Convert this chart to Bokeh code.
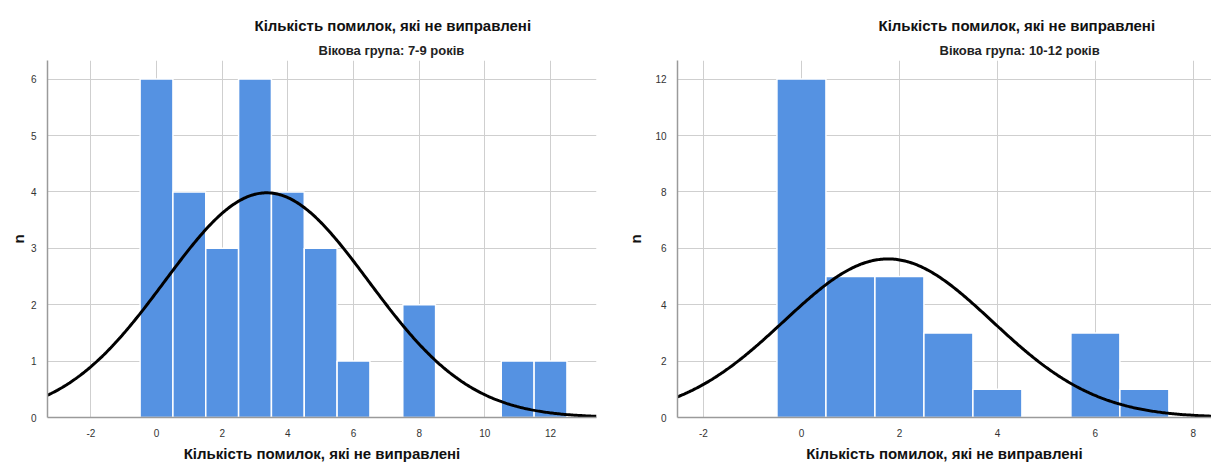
import numpy as np
from bokeh.plotting import figure
from bokeh.models import FixedTicker, Range1d, Title
from bokeh.layouts import row
from bokeh.embed import file_html
from bokeh.resources import INLINE

# ---- data ----
title_text = "Кількість помилок, які не виправлені"
xlabel_text = "Кількість помилок, які не виправлені"
ylabel_text = "n"
group1 = "Вікова група: 7-9 років"
group2 = "Вікова група: 10-12 років"

bins1 = [0, 1, 2, 3, 4, 5, 6, 8, 11, 12]
counts1 = [6, 4, 3, 6, 4, 3, 1, 2, 1, 1]
bins2 = [0, 1, 2, 3, 4, 6, 7]
counts2 = [12, 5, 5, 3, 1, 3, 1]

xticks1 = [-2, 0, 2, 4, 6, 8, 10, 12]
yticks1 = [0, 1, 2, 3, 4, 5, 6]
xticks2 = [-2, 0, 2, 4, 6, 8]
yticks2 = [0, 2, 4, 6, 8, 10, 12]

FONT = "Liberation Sans"
BAR = "#5592e2"
H = 464
TOP = 60
FRAME_H = 357


def normal_fit(bins, counts, x):
    b = np.array(bins, float)
    c = np.array(counts, float)
    n = c.sum()
    m = (b * c).sum() / n
    sd = np.sqrt(((b - m) ** 2 * c).sum() / (n - 1))
    return n / (sd * np.sqrt(2 * np.pi)) * np.exp(-0.5 * ((x - m) / sd) ** 2)


def make(bins, counts, xticks, yticks, xr, yr, width, fl, fr, subtitle,
         title_off, sub_off, ylab_standoff):
    p = figure(width=width, height=H, x_range=Range1d(*xr), y_range=Range1d(*yr),
               output_backend="svg", toolbar_location=None,
               min_border_left=fl, min_border_right=fr,
               min_border_top=TOP, min_border_bottom=H - TOP - FRAME_H)
    p.outline_line_color = None
    p.background_fill_color = "white"
    p.border_fill_color = "white"

    p.vbar(x=bins, top=counts, width=1.0, fill_color=BAR,
           line_color="white", line_width=1.5)

    xs = np.linspace(xr[0], xr[1], 400)
    p.line(xs, normal_fit(bins, counts, xs), line_color="black", line_width=3)

    for ax in (p.xaxis[0], p.yaxis[0]):
        ax.major_tick_line_color = None
        ax.minor_tick_line_color = None
        ax.axis_line_color = "#9a9a9a"
        ax.axis_line_width = 1.5
        ax.major_label_text_font = FONT
        ax.major_label_text_font_size = "10px"
        ax.major_label_text_color = "#333333"
        ax.major_label_standoff = 5
        ax.axis_label_text_font = FONT
        ax.axis_label_text_font_size = "15px"
        ax.axis_label_text_font_style = "bold"
        ax.axis_label_text_color = "#111111"
    p.xaxis[0].ticker = FixedTicker(ticks=xticks)
    p.xaxis[0].major_label_overrides = {t: str(t) for t in xticks}
    p.yaxis[0].ticker = FixedTicker(ticks=yticks)
    p.xaxis[0].axis_label = xlabel_text
    p.xaxis[0].axis_label_standoff = 5
    p.yaxis[0].axis_label = ylabel_text
    p.yaxis[0].axis_label_standoff = ylab_standoff

    p.xgrid[0].ticker = FixedTicker(ticks=xticks)
    p.ygrid[0].ticker = FixedTicker(ticks=yticks)
    for g in (p.xgrid[0], p.ygrid[0]):
        g.grid_line_color = "#cfcfcf"
        g.grid_line_width = 1

    p.add_layout(Title(text=subtitle, align="left", offset=sub_off, standoff=5,
                       text_font=FONT, text_font_size="13px", text_font_style="bold",
                       text_color="#222222"), "above")
    p.add_layout(Title(text=title_text, align="left", offset=title_off, standoff=10,
                       text_font=FONT, text_font_size="15px", text_font_style="bold",
                       text_color="#111111"), "above")
    return p


p1 = make(bins1, counts1, xticks1, yticks1, (-3.32, 13.4), (0, 6.33),
          610, 47, 14, group1, 207, 271, 1)
p2 = make(bins2, counts2, xticks2, yticks2, (-2.53, 8.37), (0, 12.66),
          601, 67, 0, group2, 201, 262, 8)

layout = row(p1, p2)
open("out.html", "w").write(file_html(layout, INLINE))
